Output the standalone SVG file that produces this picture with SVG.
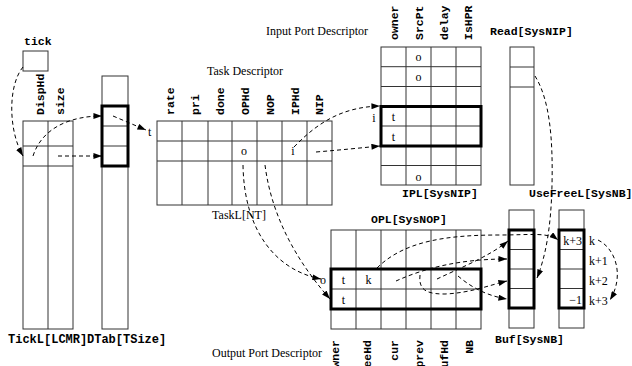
<svg xmlns="http://www.w3.org/2000/svg" width="632" height="366" viewBox="0 0 632 366">
<defs>
<style>
.thin{fill:none;stroke:#333;stroke-width:1}
.thick{fill:none;stroke:#000;stroke-width:3}
.mono{font-family:"Liberation Mono",monospace;font-weight:bold;font-size:11.5px;fill:#000}
.serif{font-family:"Liberation Serif",serif;font-size:12px;fill:#000}
.conn{fill:none;stroke:#000;stroke-width:1;stroke-dasharray:4,3;marker-end:url(#ah)}
</style>
<marker id="ah" viewBox="0 0 10 7" refX="10" refY="3.5" markerWidth="9" markerHeight="6" markerUnits="userSpaceOnUse" orient="auto">
<path d="M0,0 L10,3.5 L0,7 z" fill="#000"/>
</marker>
</defs>
<rect width="632" height="366" fill="#fff"/>

<g id="tick">
<rect class="thin" x="23" y="51" width="25" height="20"/>
<text class="mono" x="24" y="45">tick</text>
</g>

<g id="tickL">
<rect class="thin" x="23" y="121" width="50" height="208"/>
<path class="thin" d="M48,121V329M23,146H73M23,166H73"/>
<text class="mono" transform="translate(43.5,115) rotate(-90)">DispHd</text>
<text class="mono" transform="translate(63.5,115) rotate(-90)">size</text>
<text class="mono" style="font-size:12px" x="8" y="343">TickL[LCMR]</text>
</g>

<g id="dtab">
<rect class="thin" x="102" y="76" width="26" height="253"/>
<path class="thin" d="M102,126H128M102,146H128"/>
<rect class="thick" x="102" y="106" width="26" height="60"/>
<text class="mono" style="font-size:12px" x="87" y="343">DTab[TSize]</text>
</g>

<g id="taskL">
<text class="serif" x="245" y="75" text-anchor="middle">Task Descriptor</text>
<rect class="thin" x="157" y="121" width="175" height="84"/>
<path class="thin" d="M182,121V205M208,121V205M232,121V205M257,121V205M282,121V205M307,121V205M157,141H332M157,161H332"/>
<text class="mono" transform="translate(173.5,115) rotate(-90)">rate</text>
<text class="mono" transform="translate(198.5,115) rotate(-90)">pri</text>
<text class="mono" transform="translate(224,115) rotate(-90)">done</text>
<text class="mono" transform="translate(248.5,115) rotate(-90)">OPHd</text>
<text class="mono" transform="translate(273.5,115) rotate(-90)">NOP</text>
<text class="mono" transform="translate(298.5,115) rotate(-90)">IPHd</text>
<text class="mono" transform="translate(323,115) rotate(-90)">NIP</text>
<text class="serif" x="244" y="155" text-anchor="middle">o</text>
<text class="serif" x="293" y="155" text-anchor="middle">i</text>
<text class="serif" x="239" y="219" text-anchor="middle">TaskL[NT]</text>
<text class="serif" x="148" y="136">t</text>
</g>

<g id="ipl">
<text class="serif" x="368" y="35" text-anchor="end">Input Port Descriptor</text>
<rect class="thin" x="381" y="47" width="100" height="138"/>
<path class="thin" d="M406,47V185M431,47V185M456,47V185M381,66.7H481M381,86.5H481M381,126H481M381,165.5H481"/>
<rect class="thick" x="381" y="106.5" width="100" height="39.5"/>
<text class="mono" transform="translate(398,40) rotate(-90)">owner</text>
<text class="mono" transform="translate(422.5,40) rotate(-90)">SrcPt</text>
<text class="mono" transform="translate(447.5,40) rotate(-90)">delay</text>
<text class="mono" transform="translate(472,40) rotate(-90)">IsHPR</text>
<text class="serif" x="418.5" y="61" text-anchor="middle">o</text>
<text class="serif" x="418.5" y="81" text-anchor="middle">o</text>
<text class="serif" x="418.5" y="181" text-anchor="middle">o</text>
<text class="serif" x="393.5" y="121" text-anchor="middle">t</text>
<text class="serif" x="393.5" y="141" text-anchor="middle">t</text>
<text class="serif" x="374" y="122" text-anchor="middle">i</text>
<text class="mono" x="402" y="197">IPL[SysNIP]</text>
</g>

<g id="read">
<text class="mono" x="490" y="35">Read[SysNIP]</text>
<rect class="thin" x="510" y="47" width="24" height="138"/>
<path class="thin" d="M510,67H534M510,87H534"/>
</g>

<g id="opl">
<text class="mono" x="371" y="223">OPL[SysNOP]</text>
<rect class="thin" x="331" y="230" width="150" height="99"/>
<path class="thin" d="M356,230V329M381,230V329M406,230V329M431,230V329M456,230V329M331,289H481"/>
<rect class="thick" x="331" y="269" width="150" height="40"/>
<text class="serif" x="343.5" y="284" text-anchor="middle">t</text>
<text class="serif" x="343.5" y="304" text-anchor="middle">t</text>
<text class="serif" x="368.5" y="284" text-anchor="middle">k</text>
<text class="serif" x="320" y="284">o</text>
<text class="mono" text-anchor="end" transform="translate(338.5,340) rotate(-90)">owner</text>
<text class="mono" text-anchor="end" transform="translate(370.5,340) rotate(-90)">FreeHd</text>
<text class="mono" text-anchor="end" transform="translate(397.5,340) rotate(-90)">cur</text>
<text class="mono" text-anchor="end" transform="translate(422.5,340) rotate(-90)">prev</text>
<text class="mono" text-anchor="end" transform="translate(447.5,340) rotate(-90)">BufHd</text>
<text class="mono" text-anchor="end" transform="translate(472.5,340) rotate(-90)">NB</text>
<text class="serif" x="322" y="357" text-anchor="end">Output Port Descriptor</text>
</g>

<g id="buf">
<rect class="thin" x="509" y="210" width="25" height="118"/>
<path class="thin" d="M509,249.5H534M509,269H534M509,288.5H534"/>
<rect class="thick" x="509" y="230" width="25" height="78"/>
<text class="mono" x="495" y="343">Buf[SysNB]</text>
</g>

<g id="usefreel">
<text class="mono" x="529" y="197">UseFreeL[SysNB]</text>
<rect class="thin" x="559" y="210" width="25" height="118"/>
<path class="thin" d="M559,249.5H584M559,269H584M559,288.5H584"/>
<rect class="thick" x="559" y="230" width="25" height="78"/>
<text class="serif" x="582" y="245" text-anchor="end">k+3</text>
<text class="serif" x="582" y="304" text-anchor="end">−1</text>
<text class="serif" x="589" y="245">k</text>
<text class="serif" x="589" y="265">k+1</text>
<text class="serif" x="589" y="285">k+2</text>
<text class="serif" x="589" y="305">k+3</text>
</g>

<g id="connectors">
<path class="conn" d="M23,67 C8,85 8,130 23,156"/>
<path class="conn" d="M33,156 C42,128 70,116 102,116"/>
<path class="conn" d="M58,156 L102,156"/>
<path class="conn" d="M113,116 L146,130"/>
<path class="conn" d="M294,147 C320,120 345,107 380,106"/>
<path class="conn" d="M316,152 C340,150 360,148 380,146"/>
<path class="conn" d="M243,165 C244,230 275,270 321,279"/>
<path class="conn" d="M265,165 C272,220 300,265 330,299"/>
<path class="conn" d="M377,268 C405,240 450,235 500,235 C530,235 548,232 558,240"/>
<path class="conn" d="M396,281 C425,268 460,259 507,259"/>
<path class="conn" d="M437,279 C460,268 490,256 508,241"/>
<path class="conn" d="M420,275 C418,292 430,294 445,294 C470,293 490,285 507,281"/>
<path class="conn" d="M458,276 C472,288 488,296 507,299"/>
<path class="conn" d="M535,76 C550,100 553,140 552,185 C551,230 545,258 537,278"/>
<path class="conn" d="M598,240 C615,248 625,275 610,300"/>
</g>
</svg>
